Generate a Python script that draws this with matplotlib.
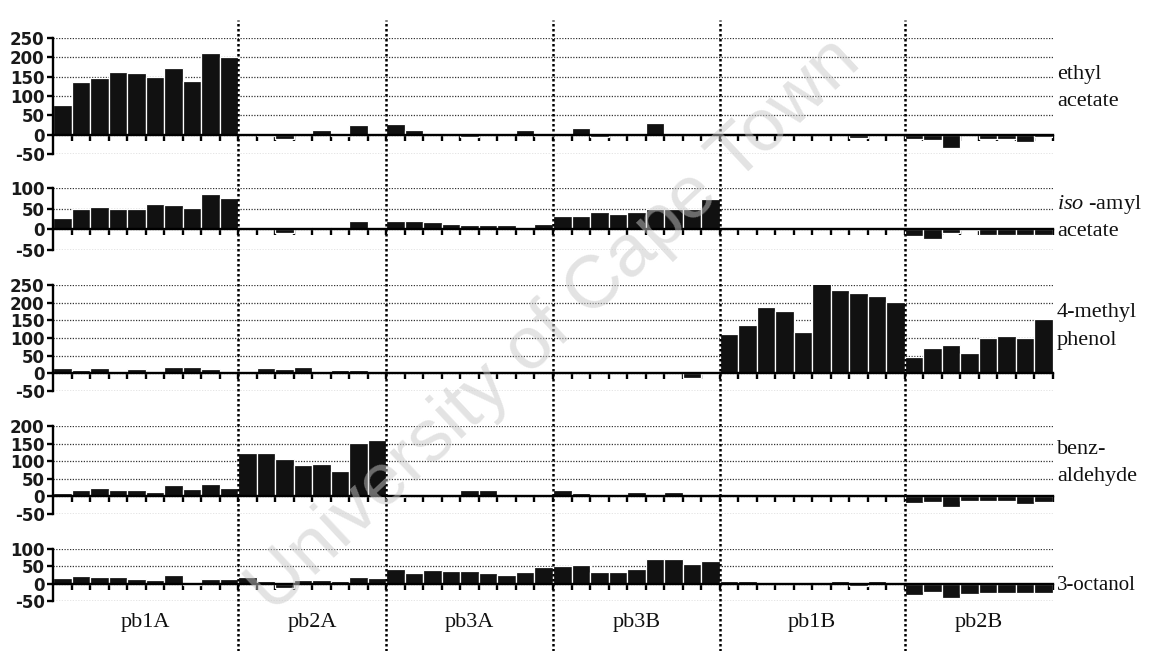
import numpy as np
import matplotlib
matplotlib.use("Agg")
import matplotlib.pyplot as plt

plt.rcParams["axes.unicode_minus"] = False
plt.rcParams["mathtext.fontset"] = "custom"
plt.rcParams["mathtext.rm"] = "Liberation Serif"
plt.rcParams["mathtext.it"] = "Liberation Serif:italic"

# ---------------- data ----------------
groups = ["pb1A", "pb2A", "pb3A", "pb3B", "pb1B", "pb2B"]
group_sizes = [10, 8, 9, 9, 10, 8]

ethyl_acetate = (
    [77, 137, 146, 162, 160, 150, 173, 139, 210, 202]
    + [5, -3, -12, 0, 11, -3, 24, 3]
    + [28, 12, 3, 2, -5, 0, 0, 13, -4]
    + [1, 18, -5, 0, -2, 30, 0, 4, 3]
    + [2, 5, 1, 2, 3, 1, 1, -8, 1, 0]
    + [-10, -15, -35, -2, -10, -10, -18, -6]
)
isoamyl_acetate = (
    [28, 50, 55, 50, 50, 62, 60, 52, 86, 75]
    + [2, 0, -8, 2, 6, 2, 21, 5]
    + [21, 19, 17, 14, 10, 10, 11, 0, 12]
    + [33, 32, 42, 36, 42, 48, 49, 49, 73]
    + [0, 3, 0, 1, 1, 0, 1, 0, 1, 0]
    + [-15, -24, -8, -2, -13, -14, -13, -13]
)
methyl_phenol = (
    [16, 9, 16, 4, 11, 5, 17, 18, 12, 2]
    + [5, 16, 12, 17, 0, 9, 9, 7]
    + [3, 1, 0, 0, 0, 0, 1, 0, 0]
    + [5, 1, 0, 0, 0, 0, 3, -12, -3]
    + [111, 137, 187, 176, 116, 255, 237, 227, 218, 202]
    + [46, 72, 79, 57, 101, 105, 99, 155]
)
benzaldehyde = (
    [11, 19, 25, 19, 17, 13, 31, 22, 34, 25]
    + [124, 122, 106, 88, 92, 73, 152, 161]
    + [-2, 7, 1, 1, 17, 17, 5, 8, 8]
    + [18, 10, 2, 0, 12, 1, 12, 2, 8]
    + [2, 0, 0, 6, 5, 0, 0, 5, 0, 7]
    + [-20, -16, -30, -14, -12, -12, -22, -15]
)
octanol = (
    [16, 21, 20, 20, 14, 12, 25, -4, 13, 13]
    + [18, 7, -12, 10, 12, 7, 19, 17]
    + [43, 30, 40, 37, 37, 31, 26, 34, 48]
    + [51, 55, 35, 35, 42, 72, 72, 57, 66]
    + [9, 7, 1, 1, 1, 5, 8, -6, 9, 3]
    + [-34, -23, -42, -30, -26, -26, -26, -26]
)

series = [ethyl_acetate, isoamyl_acetate, methyl_phenol, benzaldehyde, octanol]
series_labels = [["ethyl", "acetate"], ["$\\it{iso}$ -amyl", "acetate"],
                 ["4-methyl", "phenol"], ["benz-", "aldehyde"], ["3-octanol"]]
y_ranges = [(-50, 250), (-50, 100), (-50, 250), (-50, 200), (-50, 100)]

# ---------------- layout (pixels) ----------------
W, H = 1156, 651
fig = plt.figure(figsize=(W / 100, H / 100), dpi=100)
fig.patch.set_facecolor("white")

x_left, x_right = 53, 1053
# (pixel y of ymax, pixel y of ymin)
panel_px = [(38, 154), (188, 250), (285, 391), (426, 514), (549, 601)]
label_px = [[75, 101], [204, 231], [313, 341], [449, 476], [585]]
label_size = [16, 16, 16, 16, 15]

def fx(px):
    return px / W

def fy(py):
    return 1 - py / H

sans = ["DejaVu Sans"]
serif = ["Liberation Serif", "DejaVu Serif"]

n_total = sum(group_sizes)
xpos = np.arange(n_total) + 0.5
bounds = np.cumsum([0] + group_sizes)

for vals, (ymin, ymax), (ptop, pbot), labs, lpx, lsz in zip(
        series, y_ranges, panel_px, series_labels, label_px, label_size):
    ax = fig.add_axes([fx(x_left), fy(pbot), fx(x_right - x_left), (pbot - ptop) / H])
    ax.set_facecolor("none")
    ax.bar(xpos, vals, width=1.0, color="#111111", edgecolor="white", linewidth=0.9, zorder=2)
    ax.set_xlim(0, n_total)
    ax.set_ylim(ymin, ymax)
    ax.set_yticks(np.arange(ymin, ymax + 1, 50))
    ax.yaxis.grid(True, linestyle=(0, (1, 1.2)), color="#333333", linewidth=0.9, zorder=0)
    ax.set_axisbelow(True)
    for s in ["top", "right"]:
        ax.spines[s].set_visible(False)
    ax.spines["left"].set_linewidth(1.7)
    ax.spines["bottom"].set_position(("data", 0))
    ax.spines["bottom"].set_linewidth(1.7)
    ax.spines["bottom"].set_zorder(3)
    ax.set_xticks(np.arange(1, n_total + 1))
    ax.tick_params(axis="x", direction="out", length=4.5, width=1.7, labelbottom=False)
    ax.tick_params(axis="y", direction="out", length=4, width=1.7, pad=2, labelsize=12)
    for t in ax.get_yticklabels():
        t.set_family(sans)
        t.set_weight("bold")
        t.set_color("#1a1a1a")
    for text, py in zip(labs, lpx):
        fig.text(fx(x_right + 4), fy(py), text, family=serif, fontsize=lsz,
                 ha="left", va="center", color="#111111")

# overlay for group separators and group labels
ov = fig.add_axes([fx(x_left), 0, fx(x_right - x_left), fy(20)])
ov.set_xlim(0, n_total)
ov.set_ylim(0, 1)
ov.axis("off")
ov.patch.set_alpha(0)
for b in bounds[1:-1]:
    ov.axvline(b, color="black", linestyle=(0, (1, 1)), linewidth=1.8, zorder=5)
centers = (bounds[:-1] + bounds[1:]) / 2
label_y = (H - 622) / (H - 20)
for c, g in zip(centers, groups):
    ov.text(c, label_y, g, family=serif, fontsize=16, ha="center", va="center", color="#111111")

# faint watermark
fig.text(0.48, 0.50, "University of Cape Town", family=["Liberation Sans"], fontsize=54,
         rotation=43, color="#c8c8c8", alpha=0.5, ha="center", va="center", zorder=10)

fig.savefig("out.png", dpi=100, facecolor="white")
